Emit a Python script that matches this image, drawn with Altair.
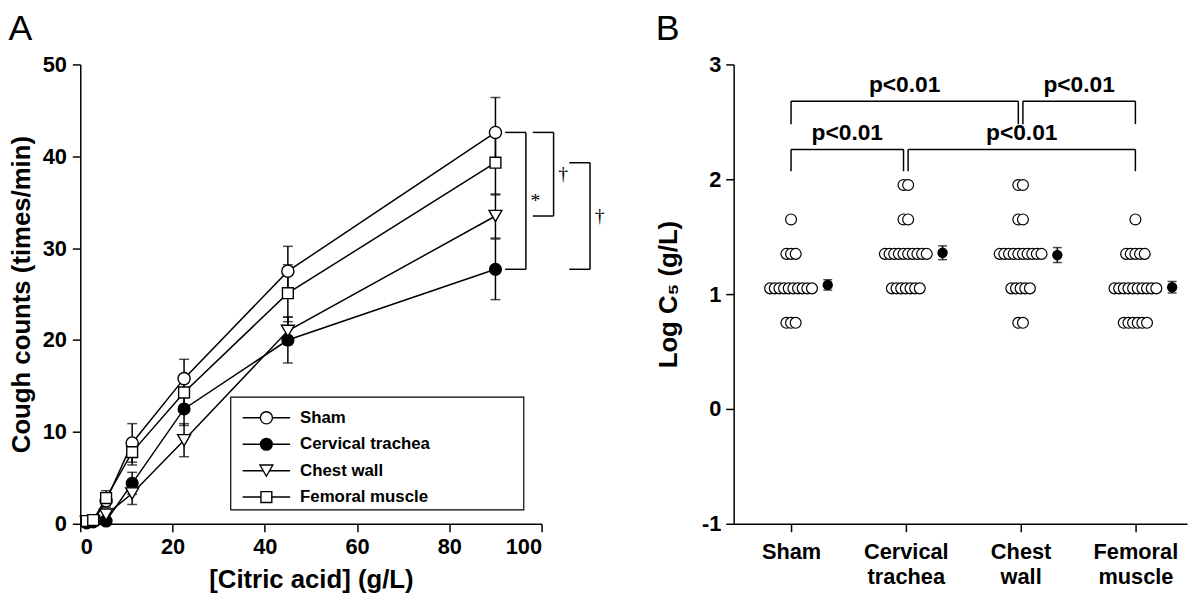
import altair as alt
import pandas as pd

FONT = "Liberation Sans"

# ---------------- Panel A data ----------------
groups = ["Sham", "Cervical trachea", "Chest wall", "Femoral muscle"]
conc = [1.4, 2.8, 5.6, 11.25, 22.5, 45, 90]
sham_mean = [0.2, 0.3, 2.5, 8.8, 15.8, 27.5, 42.6]
sham_sem = [0.1, 0.2, 0.7, 2.1, 2.1, 2.7, 3.8]
cerv_mean = [0.1, 0.2, 0.3, 4.4, 12.5, 20.0, 27.7]
cerv_sem = [0.1, 0.1, 0.2, 1.2, 1.8, 2.5, 3.3]
chest_mean = [0.2, 0.3, 1.0, 3.3, 9.1, 21.0, 33.5]
chest_sem = [0.1, 0.2, 0.5, 1.2, 1.8, 1.5, 2.4]
fem_mean = [0.3, 0.4, 2.8, 7.8, 14.3, 25.1, 39.3]
fem_sem = [0.1, 0.2, 0.8, 1.4, 1.6, 3.1, 3.5]
x_ticks_a = [0, 20, 40, 60, 80, 100]
y_ticks_a = [0, 10, 20, 30, 40, 50]
comparisons_a = [("Sham", "Cervical trachea", "*"),
                 ("Sham", "Chest wall", "\u2020"),
                 ("Femoral muscle", "Cervical trachea", "\u2020")]

# ---------------- Panel B data ----------------
levels_b = [0.75, 1.05, 1.35, 1.65, 1.95]
sham_counts = [3, 10, 3, 1, 0]
cerv_counts = [0, 7, 10, 2, 2]
chest_counts = [2, 5, 10, 2, 2]
fem_counts = [6, 10, 5, 1, 0]
mean_b = [1.08, 1.36, 1.34, 1.06]
sem_b = [0.045, 0.06, 0.065, 0.05]
cat_labels_b = [["Sham"], ["Cervical", "trachea"], ["Chest", "wall"], ["Femoral", "muscle"]]
y_ticks_b = [-1, 0, 1, 2, 3]
comparisons_b = [("Sham", "Cervical trachea", "p<0.01", 0),
                 ("Cervical trachea", "Femoral muscle", "p<0.01", 0),
                 ("Sham", "Chest wall", "p<0.01", 1),
                 ("Chest wall", "Femoral muscle", "p<0.01", 1)]

# ---------------- build tables ----------------
means_a = [sham_mean, cerv_mean, chest_mean, fem_mean]
sems_a = [sham_sem, cerv_sem, chest_sem, fem_sem]
rows = []
for g, ms, ss in zip(groups, means_a, sems_a):
    for c, m, s in zip(conc, ms, ss):
        rows.append(dict(group=g, conc=c, mean=m, lo=max(m - s, 0), hi=m + s))
dfA = pd.DataFrame(rows)

last = {g: ms[-1] for g, ms in zip(groups, means_a)}
# bracket layout (x in data units beyond the last concentration)
br_left = [92.1, 98.1, 106.0]
br_arm = 4.5
br_text_gap = 1.0
brA = []
for (g1, g2, lab), xl in zip(comparisons_a, br_left):
    ya, yb = last[g1], last[g2]
    brA.append(dict(x1=xl, x2=xl + br_arm, ya=ya, yb=yb, ym=(ya + yb) / 2,
                    tx=xl + br_arm + br_text_gap, label=lab))
dfBrA = pd.DataFrame(brA)

counts_b = [sham_counts, cerv_counts, chest_counts, fem_counts]
dot_step = 0.0405
dots = []
for gi, (g, cnts) in enumerate(zip(groups, counts_b)):
    for lv, n in zip(levels_b, cnts):
        for j in range(n):
            dots.append(dict(group=g, xpos=gi + (j - (n - 1) / 2) * dot_step, val=lv))
dfDots = pd.DataFrame(dots)

mean_shift = 0.32
dfMeanB = pd.DataFrame([dict(group=g, xpos=i + mean_shift, val=m, lo=m - s, hi=m + s)
                        for i, (g, m, s) in enumerate(zip(groups, mean_b, sem_b))])

row_top = [2.26, 2.68]
row_bot = [2.07, 2.48]
text_lift = 0.08
gap_b = 0.02
brB = []
for g1, g2, lab, r in comparisons_b:
    i1, i2 = groups.index(g1), groups.index(g2)
    x1 = i1 + (gap_b if any(c[1] == g1 and c[3] == r for c in comparisons_b) else 0)
    x2 = i2 - (gap_b if any(c[0] == g2 and c[3] == r for c in comparisons_b) else 0)
    brB.append(dict(x1=x1, x2=x2, xm=(x1 + x2) / 2, ytop=row_top[r], ybot=row_bot[r],
                    yt=row_top[r] + text_lift, label=lab))
dfBrB = pd.DataFrame(brB)

# ---------------- Panel A ----------------
xsA = alt.Scale(domain=[0, 100], nice=False, zero=False)
ysA = alt.Scale(domain=[0, 50], nice=False, zero=False)
xaxA = alt.Axis(values=x_ticks_a, title="[Citric acid] (g/L)", titlePadding=9, labelPadding=5)
yaxA = alt.Axis(values=y_ticks_a, title="Cough counts (times/min)", titlePadding=8, labelPadding=6)


def XA(f):
    return alt.X(f"{f}:Q", scale=xsA, axis=xaxA)


def YA(f):
    return alt.Y(f"{f}:Q", scale=ysA, axis=yaxA)


baseA = alt.Chart(dfA)
lines = baseA.mark_line(color="black", strokeWidth=1.5).encode(x=XA("conc"), y=YA("mean"), detail="group:N")
err = baseA.mark_rule(color="black", strokeWidth=1.5).encode(x=XA("conc"), y=YA("lo"), y2="hi:Q")
caps = baseA.transform_fold(["lo", "hi"], as_=["which", "yv"]).mark_tick(
    orient="horizontal", size=10, thickness=1.5, color="black").encode(x=XA("conc"), y=YA("yv"))

marker_shapes = ["circle", "circle", "triangle-down", "square"]
marker_fills = ["white", "black", "white", "white"]
marker_sizes = [150, 140, 170, 120]
pt_layers = []
for g, shp, fc, sz in zip(groups, marker_shapes, marker_fills, marker_sizes):
    pt_layers.append(
        baseA.transform_filter(alt.datum.group == g).mark_point(
            shape=shp, filled=True, fill=fc, size=sz, stroke="black", strokeWidth=1.4, opacity=1
        ).encode(x=XA("conc"), y=YA("mean"))
    )

baseBrA = alt.Chart(dfBrA)
bh1 = baseBrA.mark_rule(color="black", strokeWidth=1.5).encode(x=XA("x1"), x2="x2:Q", y=YA("ya"))
bh2 = baseBrA.mark_rule(color="black", strokeWidth=1.5).encode(x=XA("x1"), x2="x2:Q", y=YA("yb"))
bv = baseBrA.mark_rule(color="black", strokeWidth=1.5).encode(x=XA("x2"), y=YA("ya"), y2="yb:Q")
btxt = baseBrA.mark_text(font="Liberation Serif", fontSize=20, align="left", baseline="middle",
                         color="black").encode(x=XA("tx"), y=YA("ym"), text="label:N")

main_a = alt.layer(lines, err, caps, *pt_layers, bh1, bh2, bv, btxt)

# legend (layout in pixels of the plot area)
dfLeg = pd.DataFrame(dict(group=groups))
LEG_BOX = dict(x=152, x2=448, y=336, y2=450)
LEG_ROWS = [357, 437]
LEG_LINE = (164, 212)
LEG_SYM = 188
LEG_TXT = 222
legY = alt.Y("group:N", scale=alt.Scale(type="point", domain=groups, range=LEG_ROWS, padding=0), axis=None)
baseLeg = alt.Chart(dfLeg)
leg_box = baseLeg.transform_filter(alt.datum.group == groups[0]).mark_rect(
    fill="white", stroke="black", strokeWidth=1.2).encode(
    x=alt.value(LEG_BOX["x"]), x2=alt.value(LEG_BOX["x2"]),
    y=alt.value(LEG_BOX["y"]), y2=alt.value(LEG_BOX["y2"]))
leg_lines = baseLeg.mark_rule(color="black", strokeWidth=1.5).encode(
    x=alt.value(LEG_LINE[0]), x2=alt.value(LEG_LINE[1]), y=legY)
leg_pts = []
for g, shp, fc, sz in zip(groups, marker_shapes, marker_fills, marker_sizes):
    leg_pts.append(baseLeg.transform_filter(alt.datum.group == g).mark_point(
        shape=shp, filled=True, fill=fc, size=sz, stroke="black", strokeWidth=1.4, opacity=1
    ).encode(x=alt.value(LEG_SYM), y=legY))
leg_txt = baseLeg.mark_text(font=FONT, fontSize=17, fontWeight="bold", align="left",
                            baseline="middle", color="black").encode(
    x=alt.value(LEG_TXT), y=legY, text="group:N")
legend_a = alt.layer(leg_box, leg_lines, *leg_pts, leg_txt)

panelA = alt.layer(main_a, legend_a).resolve_scale(y="independent").properties(
    width=466, height=464,
    title=alt.Title("A", anchor="start", frame="bounds", fontSize=36, fontWeight="normal",
                    font=FONT, color="black", offset=6),
)

# ---------------- Panel B ----------------
xsB = alt.Scale(domain=[-0.5, 3.45], nice=False, zero=False)
ysB = alt.Scale(domain=[-1, 3], nice=False, zero=False)
lab_js = "[" + ",".join("'" + "|".join(l) + "'" for l in cat_labels_b) + "]"
xaxB = alt.Axis(values=[0, 1, 2, 3], title=None, labelExpr=f"split({lab_js}[round(datum.value)], '|')",
                labelLineHeight=25, labelPadding=10, labelBaseline="top")
yaxB = alt.Axis(values=y_ticks_b, title="Log C\u2085 (g/L)", labelExpr="datum.value + ''",
                titlePadding=20, labelPadding=5)


def XB(f):
    return alt.X(f"{f}:Q", scale=xsB, axis=xaxB)


def YB(f):
    return alt.Y(f"{f}:Q", scale=ysB, axis=yaxB)


dotsL = alt.Chart(dfDots).mark_point(shape="circle", size=121, filled=True, fill="white",
                                     stroke="black", strokeWidth=1.2, opacity=1).encode(
    x=XB("xpos"), y=YB("val"))
meanErr = alt.Chart(dfMeanB).mark_rule(color="black", strokeWidth=1.5).encode(
    x=XB("xpos"), y=YB("lo"), y2="hi:Q")
meanCaps = alt.Chart(dfMeanB).transform_fold(["lo", "hi"], as_=["which", "yv"]).mark_tick(
    orient="horizontal", size=9, thickness=1.5, color="black").encode(x=XB("xpos"), y=YB("yv"))
meanPts = alt.Chart(dfMeanB).mark_point(shape="circle", size=110, filled=True, color="black",
                                        opacity=1).encode(x=XB("xpos"), y=YB("val"))

baseBrB = alt.Chart(dfBrB)
bbh = baseBrB.mark_rule(color="black", strokeWidth=1.5).encode(x=XB("x1"), x2="x2:Q", y=YB("ytop"))
bbl = baseBrB.mark_rule(color="black", strokeWidth=1.5).encode(x=XB("x1"), y=YB("ytop"), y2="ybot:Q")
bbr = baseBrB.mark_rule(color="black", strokeWidth=1.5).encode(x=XB("x2"), y=YB("ytop"), y2="ybot:Q")
bbt = baseBrB.mark_text(font=FONT, fontSize=23, fontWeight="bold", align="center",
                        baseline="alphabetic", color="black").encode(
    x=XB("xm"), y=YB("yt"), text="label:N")

panelB = alt.layer(dotsL, meanErr, meanCaps, meanPts, bbh, bbl, bbr, bbt).properties(
    width=458, height=464,
    title=alt.Title("B", anchor="start", frame="bounds", fontSize=36, fontWeight="normal",
                    font=FONT, color="black", offset=6),
)

chart = alt.hconcat(panelA, panelB, spacing=51).properties(
    padding={"left": 0, "top": 0, "right": 5, "bottom": 5}
).configure_view(stroke=None).configure_axis(
    domainColor="black", domainWidth=1.5, tickColor="black", tickWidth=1.5, tickSize=8,
    labelFont=FONT, labelFontWeight="bold", labelFontSize=22, labelColor="black",
    titleFont=FONT, titleFontWeight="bold", titleFontSize=26, titleColor="black", grid=False,
)

chart.save("out.html", embed_options={"renderer": "svg", "actions": False})
